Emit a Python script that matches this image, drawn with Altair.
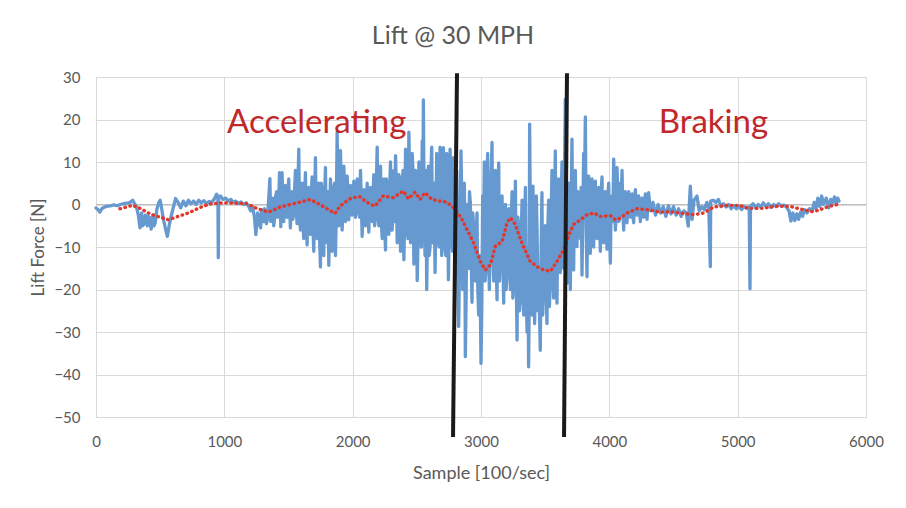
import altair as alt
import pandas as pd

# ---- blue raw signal (sample, lift force) ----
QUIET_START = [(0,-0.8),(15,-1.2),(30,-1.8),(45,-1.0),(65,-0.6),(90,-0.4),(115,-0.3),(140,-0.1),(165,-0.3),
    (190,0.0),(215,0.2),(240,0.3),(265,0.5),(286,1.0),(300,0.2),(315,-0.5),(330,-2.5),(343,-5.5),(356,-2.0),
    (370,-4.8),(385,-2.5),(400,-5.0),(415,-3.0),(430,-5.8),(445,-2.5),(460,-4.5),(475,-1.0),(490,0.5),(500,1.0),
    (512,-1.0),(525,-3.5),(540,-5.5),(556,-7.5),(570,-5.0),(585,-2.8),(600,-1.0),(620,1.4),(640,0.5),(660,-0.8),
    (680,0.8),(700,-0.3),(720,1.0),(740,0.2),(760,0.8),(780,0.0),(800,1.0),(820,0.4),(840,0.9),(860,0.2),
    (880,0.7),(900,0.5),(920,1.2),(940,2.4),(950,1.8),(953,-12.5),(956,1.6),(970,2.0),(990,1.2),(1010,1.5),
    (1030,0.8),(1050,1.2),(1070,0.5),(1090,0.8),(1110,0.2),(1130,0.6),(1150,0.0),(1170,0.4),(1190,-0.5),
    (1205,-1.5),(1220,-0.5),(1235,-3.0),(1246,-7.1),(1260,-2.0),(1275,-4.8),(1290,-1.2),(1305,-4.0),
    (1320,-2.0),(1335,-3.5),(1355,6.1),(1370,-2.0),(1385,-5.0),(1400,2.0),(1415,-3.0),(1430,7.5),(1440,-5.2)]

QUIET_INNER = [(336,-4.0),(349,-3.0),(363,-5.0),(378,-3.5),(392,-4.2),(408,-2.8),(422,-4.5),(438,-3.2),
    (452,-5.0),(468,-2.8),(1240,-5.0),(1253,-4.0),(1268,-3.0),(1283,-5.5),(1298,-2.5),(1313,-1.0),
    (1328,-4.5),(1345,1.0),(1362,-4.0),(1378,1.5),(1392,-3.0),(1408,3.0),(1422,-1.0),(1435,2.0)]

ACCEL_A = [(1450,7.5),(1463,-4.0),(1476,4.5),(1489,-3.0),(1502,6.0),(1515,-5.5),(1528,3.0),(1541,-2.0),
    (1554,8.0),(1567,-4.5),(1580,13.0),(1593,-6.0),(1606,5.0),(1619,-8.0),(1632,7.5),(1645,-9.5),(1658,4.0),
    (1671,-7.0),(1684,6.5),(1697,-11.0),(1710,11.0),(1723,-8.0),(1736,5.0),(1749,-14.7),(1762,3.0),
    (1775,-12.0),(1788,8.7),(1801,-9.0),(1814,-14.3),(1827,6.0),(1840,-11.0),(1853,4.0),(1866,-12.0),
    (1879,17.0),(1892,-5.0),(1905,12.7),(1918,-6.0),(1931,9.0),(1944,-4.0),(1957,6.7),(1970,-3.6),
    (1983,4.5),(1996,-2.5),(2009,5.5),(2022,-3.0),(2035,6.0),(2048,-2.0),(2061,8.0),(2074,-7.5),
    (2087,3.5),(2100,-5.0)]

INNER_A = [(1456,-1.0),(1469,2.0),(1482,-2.5),(1495,1.5),(1508,-1.0),(1521,2.5),(1534,-3.5),(1547,3.0),
    (1560,-1.0),(1573,4.0),(1586,-3.0),(1599,2.0),(1612,-4.0),(1625,1.0),(1638,-2.0),(1651,3.0),
    (1664,-4.5),(1677,2.5),(1690,-5.0),(1703,1.0),(1716,-6.0),(1729,4.0),(1742,-8.0),(1755,5.0),
    (1768,-4.0),(1781,2.0),(1794,-7.0),(1807,3.0),(1820,-5.0),(1833,1.0),(1846,-6.0),(1859,5.0),
    (1872,-3.0),(1885,4.0),(1898,-2.0),(1911,3.0),(1924,0.0),(1937,4.0),(1950,-1.5),(1963,3.0),
    (1976,0.5),(1989,2.5),(2002,-1.0),(2015,3.0),(2028,0.0),(2041,2.0),(2054,-3.0),(2067,1.0),
    (2080,-2.0),(2093,2.5),(2106,-1.5)]

ACCEL_B = [(2113,5.0),(2126,-6.5),(2139,4.0),(2152,-4.0),(2165,7.0),(2178,-3.0),(2191,13.5),(2204,-5.0),
    (2217,9.0),(2230,-8.0),(2243,6.0),(2256,-10.7),(2269,4.5),(2282,-7.0),(2295,10.0),(2308,-6.0),
    (2321,8.0),(2334,11.5),(2347,-9.0),(2360,7.0),(2373,-11.0),(2386,5.0),(2399,-13.0),(2412,13.0),
    (2425,-6.0),(2438,17.0),(2451,-9.0),(2464,12.0),(2477,-14.0),(2490,8.0),(2503,-17.9),(2516,10.0),
    (2529,-8.0),(2542,15.0),(2551,24.6),(2564,-12.0),(2577,-20.0),(2590,9.0),(2603,-10.0),(2616,13.5),
    (2629,-7.0),(2642,-16.0),(2655,12.0),(2668,-9.0),(2681,13.5),(2694,-12.0),(2707,13.4),(2720,-10.0),
    (2733,12.0),(2746,-17.7),(2759,13.0),(2772,-8.0),(2785,11.0),(2798,-14.0)]

INNER_B = [(2119,-2.0),(2132,3.0),(2145,-3.0),(2158,2.0),(2171,-5.0),(2184,4.0),(2197,-2.0),(2210,5.0),
    (2223,-4.0),(2236,3.0),(2249,-5.0),(2262,6.0),(2275,-3.0),(2288,4.0),(2301,-6.0),(2314,2.0),
    (2327,-4.0),(2340,5.0),(2353,-2.0),(2366,6.0),(2379,-5.0),(2392,8.0),(2405,-4.0),(2418,4.0),
    (2431,-8.0),(2444,6.0),(2457,-5.0),(2470,8.0),(2483,-6.0),(2496,5.0),(2509,-9.0),(2522,7.0),
    (2535,-10.0),(2548,6.0),(2557,-4.0),(2570,8.0),(2583,-6.0),(2596,-12.0),(2609,7.0),(2622,-9.0),
    (2635,5.0),(2648,-4.0),(2661,7.0),(2674,-10.0),(2687,6.0),(2700,-8.0),(2713,5.0),(2726,-12.0),
    (2739,8.0),(2752,-6.0),(2765,6.0),(2778,-11.0),(2791,4.0),(2804,-9.0)]

MIDDLE = [(2811,8.0),(2826,-28.7),(2844,12.6),(2857,-20.0),(2870,5.0),(2878,-35.8),(2891,0.0),(2904,-15.0),
    (2917,0.5),(2930,-23.0),(2943,-5.0),(2956,-18.0),(2969,-2.0),(2982,-26.0),(3000,-37.4),(3013,2.0),
    (3026,10.0),(3039,-15.0),(3052,12.0),(3065,-20.0),(3086,14.6),(3099,-18.0),(3112,8.0),(3125,-22.4),
    (3138,9.8),(3151,-12.0),(3164,2.0),(3177,-23.2),(3190,0.0),(3203,-16.0),(3216,-1.0),(3229,-20.0),
    (3242,3.0),(3255,-18.0),(3268,5.5),(3281,-31.9),(3294,-5.0),(3307,-22.0),(3320,1.0),(3333,-26.0),
    (3346,4.0),(3359,-30.0),(3371,-38.2),(3379,18.9),(3392,-20.0),(3405,4.3),(3418,-28.0),(3431,2.0),
    (3444,-25.0),(3462,-34.3),(3475,2.8),(3488,-20.0),(3501,-5.0),(3514,-28.0),(3527,1.0),(3540,-18.0),
    (3553,8.0),(3566,-22.0),(3579,12.6),(3592,-23.2),(3605,6.0),(3618,-16.0),(3631,10.0),(3644,-15.0),
    (3657,24.8),(3670,-18.5),(3683,5.0),(3696,-20.0),(3709,15.4),(3722,-15.4),(3735,8.0),(3748,-9.9),
    (3761,1.2),(3774,-8.0),(3787,-16.6),(3800,12.0),(3813,20.6),(3826,-17.0),(3839,6.7),(3852,-11.5)]

INNER_C = [(2818,-15.0),(2835,-8.0),(2850,2.0),(2863,-12.0),(2874,-5.0),(2884,-22.0),(2897,-8.0),
    (2910,3.0),(2923,-12.0),(2936,-2.0),(2949,-16.0),(2962,-8.0),(2975,-20.0),(2991,-12.0),(3006,-25.0),
    (3019,-8.0),(3032,-18.0),(3045,4.0),(3058,-10.0),(3075,2.0),(3092,-12.0),(3105,-2.0),(3118,-14.0),
    (3131,3.0),(3144,-18.0),(3157,-6.0),(3170,-12.0),(3183,-4.0),(3196,-20.0),(3209,-6.0),(3222,-12.0),
    (3235,-4.0),(3248,-22.0),(3261,-8.0),(3274,-16.0),(3287,-3.0),(3300,-25.0),(3313,-8.0),(3326,-18.0),
    (3339,-6.0),(3352,-20.0),(3365,-10.0),(3375,-24.0),(3385,-5.0),(3398,-26.0),(3411,-10.0),
    (3424,-18.0),(3437,-6.0),(3453,-22.0),(3468,-12.0),(3481,-26.0),(3494,-8.0),(3507,-18.0),
    (3520,-6.0),(3533,-24.0),(3546,-4.0),(3559,-16.0),(3572,-2.0),(3585,-14.0),(3598,-4.0),
    (3611,-12.0),(3624,0.0),(3637,-10.0),(3650,4.0),(3663,-8.0),(3676,2.0),(3689,-10.0),(3702,0.0),
    (3715,-8.0),(3728,2.0),(3741,-4.0),(3754,3.0),(3767,-6.0),(3780,4.0),(3793,-3.0),(3806,2.0),
    (3819,-5.0),(3832,3.0),(3845,-6.0),(3858,2.0)]

BRAKE = [(3865,6.0),(3878,-10.0),(3891,5.5),(3904,-8.0),(3917,4.0),(3930,-11.0),(3943,6.5),(3956,-9.0),
    (3969,3.0),(3982,-10.5),(3995,5.0),(4008,-13.8),(4021,2.0),(4034,10.7),(4047,-6.0),(4060,8.7),
    (4073,-4.0),(4086,5.0),(4099,8.0),(4112,-6.0),(4125,3.0),(4138,-4.3),(4151,3.0),(4164,-3.0),
    (4177,2.5),(4190,-4.3),(4203,3.5),(4216,-2.5),(4229,2.0),(4242,-4.0),(4255,1.5),(4268,-3.0),
    (4281,2.5),(4294,-3.5),(4306,2.8),(4320,-1.5),(4340,0.5),(4360,-2.5),(4380,0.0),(4400,-2.0),
    (4420,-0.5),(4440,-2.8),(4460,-0.3),(4480,-2.2),(4500,-0.5),(4520,-2.5),(4540,-1.0),(4560,-2.8),
    (4580,-1.5),(4600,-2.0),(4615,-5.1),(4631,4.3),(4645,-3.5),(4660,1.0),(4683,2.0),(4700,-1.5),
    (4720,-0.5),(4740,-1.2),(4760,0.5),(4775,-0.8),(4787,-14.6),(4790,0.8),(4810,1.0),(4830,0.5),
    (4850,1.2)]

INNER_D = [(3871,-3.0),(3884,2.0),(3897,-5.0),(3910,1.0),(3923,-4.0),(3936,2.5),(3949,-6.0),(3962,1.0),
    (3975,-4.0),(3988,2.0),(4001,-6.0),(4014,0.0),(4027,-4.0),(4040,3.0),(4053,-2.0),(4066,2.0),
    (4079,-3.5),(4092,1.0),(4105,-2.0),(4118,1.5),(4131,-2.5),(4144,0.5),(4157,-2.0),(4170,0.0),
    (4183,-2.5),(4196,1.0),(4209,-2.0),(4222,0.5),(4235,-1.5),(4248,0.0),(4261,-2.0),(4274,0.5),
    (4287,-1.5),(4300,0.0)]

QUIET_END = [(4870,-0.5),(4890,0.2),(4910,-0.6),(4930,0.0),(4950,-1.0),(4970,-0.3),(4990,-1.0),
    (5010,-0.4),(5030,-1.2),(5050,-0.5),(5070,-0.9),(5090,-0.6),(5096,-19.8),(5100,-0.5),(5120,0.2),
    (5140,-0.8),(5160,0.0),(5180,-0.6),(5200,0.4),(5220,-0.5),(5240,0.2),(5260,-0.7),(5280,0.0),
    (5300,-0.5),(5320,0.2),(5340,-0.4),(5360,-0.1),(5380,-0.6),(5400,-1.5),(5415,-3.9),(5430,-2.0),
    (5445,-3.8),(5460,-2.2),(5475,-3.5),(5490,-1.8),(5506,-2.8),(5520,-1.2),(5540,-2.0),(5560,-1.0),
    (5580,-1.5),(5597,0.5),(5610,-1.0),(5625,1.5),(5640,-0.5),(5655,2.0),(5670,0.0),(5690,1.5),
    (5710,-0.8),(5725,1.2),(5740,0.3),(5755,1.8),(5770,0.2),(5780,1.5),(5790,0.8)]

# ---- red moving average ----
MOVING_AVG = [(187,-1.0),(285,-0.2),(350,-1.0),(420,-2.2),(500,-3.0),(563,-3.6),(640,-2.8),(720,-2.0),
    (834,-0.4),(900,0.2),(992,0.4),(1100,0.3),(1174,0.2),(1260,-1.0),(1345,-1.8),(1434,-0.6),(1512,0.0),
    (1590,0.55),(1668,1.2),(1745,0.0),(1810,-1.2),(1862,-2.1),(1901,-0.4),(1953,0.8),(1992,1.6),
    (2057,1.8),(2109,0.55),(2174,-0.4),(2239,2.0),(2317,1.6),(2395,3.2),(2434,1.35),(2486,2.9),
    (2525,1.2),(2564,2.8),(2616,1.2),(2683,0.8),(2735,0.55),(2787,-0.8),(2839,-2.8),(2891,-5.9),
    (2943,-9.1),(2995,-13.4),(3034,-15.4),(3073,-14.2),(3112,-9.8),(3164,-8.7),(3203,-4.3),(3229,-3.1),
    (3267,-4.7),(3319,-9.1),(3384,-13.4),(3436,-14.6),(3488,-15.4),(3540,-15.7),(3592,-13.4),
    (3644,-10.6),(3696,-6.3),(3722,-4.7),(3774,-3.6),(3826,-2.4),(3878,-2.0),(3930,-2.8),(4008,-2.6),
    (4047,-3.6),(4086,-3.2),(4138,-2.0),(4216,-1.0),(4293,-1.2),(4397,-1.8),(4475,-1.7),(4579,-2.1),
    (4657,-2.4),(4735,-2.0),(4813,-0.6),(4917,-0.2),(5013,-0.2),(5091,-0.9),(5195,-0.9),(5299,-0.4),
    (5403,-0.4),(5480,-1.0),(5584,-1.7),(5636,-1.3),(5714,-0.4),(5779,0.0)]

# ---- phase boundary lines (sample at top / bottom) ----
BOUNDARY_TOP_X = [2813, 3670]
BOUNDARY_BOTTOM_X = [2782, 3647]
BOUNDARY_TOP_Y = 30.9
BOUNDARY_BOTTOM_Y = -54.7

# ---- annotations ----
LABELS = ["Accelerating", "Braking"]
LABEL_X = [1720, 4811]
LABEL_Y = [16.9, 16.9]

X_TICKS = [0, 1000, 2000, 3000, 4000, 5000, 6000]
Y_TICKS = [-50, -40, -30, -20, -10, 0, 10, 20, 30]

FONT = "Lato"
GREY = "#595959"

raw = pd.DataFrame(QUIET_START + QUIET_INNER + ACCEL_A + INNER_A + ACCEL_B + INNER_B + MIDDLE + INNER_C
                   + BRAKE + INNER_D + QUIET_END, columns=["x", "y"]).sort_values("x")
avg = pd.DataFrame(MOVING_AVG, columns=["x", "y"])
bounds = pd.DataFrame({"x": BOUNDARY_BOTTOM_X, "y": [BOUNDARY_BOTTOM_Y] * 2,
                       "x2": BOUNDARY_TOP_X, "y2": [BOUNDARY_TOP_Y] * 2})
zero = pd.DataFrame({"x": [0], "x2": [6000], "y": [0]})
labels = pd.DataFrame({"label": LABELS, "x": LABEL_X, "y": LABEL_Y})

x_enc = alt.X("x:Q", title="Sample [100/sec]",
              scale=alt.Scale(domain=[0, 6000], nice=False, zero=False),
              axis=alt.Axis(values=X_TICKS, format="d", grid=True, gridColor="#D9D9D9",
                            domain=False, ticks=False, labelPadding=17, labelFlush=False,
                            labelFont=FONT, labelFontSize=15, labelColor=GREY, titleFont=FONT,
                            titleFontSize=18, titleColor=GREY, titleFontWeight="normal", titleY=56,
                            titleBaseline="middle"))
y_enc = alt.Y("y:Q", title="Lift Force [N]",
              scale=alt.Scale(domain=[-50, 30], nice=False, zero=False),
              axis=alt.Axis(values=Y_TICKS, format="d", grid=True, gridColor="#D9D9D9",
                            domain=False, ticks=False, labelPadding=16, labelFlush=False,
                            labelFont=FONT, labelFontSize=15, labelColor=GREY, titleFont=FONT,
                            titleFontSize=17, titleColor=GREY, titleFontWeight="normal", titleX=-58,
                            titleBaseline="middle"))

zero_line = alt.Chart(zero).mark_rule(color="#BFBFBF", strokeWidth=1).encode(
    x=x_enc, x2="x2:Q", y=y_enc)

blue = alt.Chart(raw).mark_line(color="#6699CF", strokeWidth=3.3, strokeJoin="round",
                                strokeCap="round").encode(x=x_enc, y=y_enc, order="x:Q")

red = alt.Chart(avg).mark_line(color="#E0382C", strokeWidth=3.4, strokeCap="round",
                               strokeDash=[0.5, 4.6]).encode(x=x_enc, y=y_enc)

black = alt.Chart(bounds).mark_rule(color="#1A1A1A", strokeWidth=4).encode(
    x=x_enc, y=y_enc, x2="x2:Q", y2="y2:Q")

text = alt.Chart(labels).mark_text(font=FONT, fontSize=33, color="#C0282B", align="center",
                                   baseline="alphabetic").encode(x=x_enc, y=y_enc, text="label:N")

chart = alt.layer(zero_line, blue, red, black, text).properties(
    width=770, height=340,
    title=alt.TitleParams("Lift @ 30 MPH", font=FONT, fontSize=25, fontWeight="normal",
                          color=GREY, anchor="middle", dx=-28, offset=21),
    padding={"left": 88, "top": 69, "right": 32, "bottom": 75},
    autosize=alt.AutoSizeParams(type="none"),
).configure_view(strokeWidth=0).configure(background="white")

chart.save("out.html", embed_options={"renderer": "svg", "actions": False})
